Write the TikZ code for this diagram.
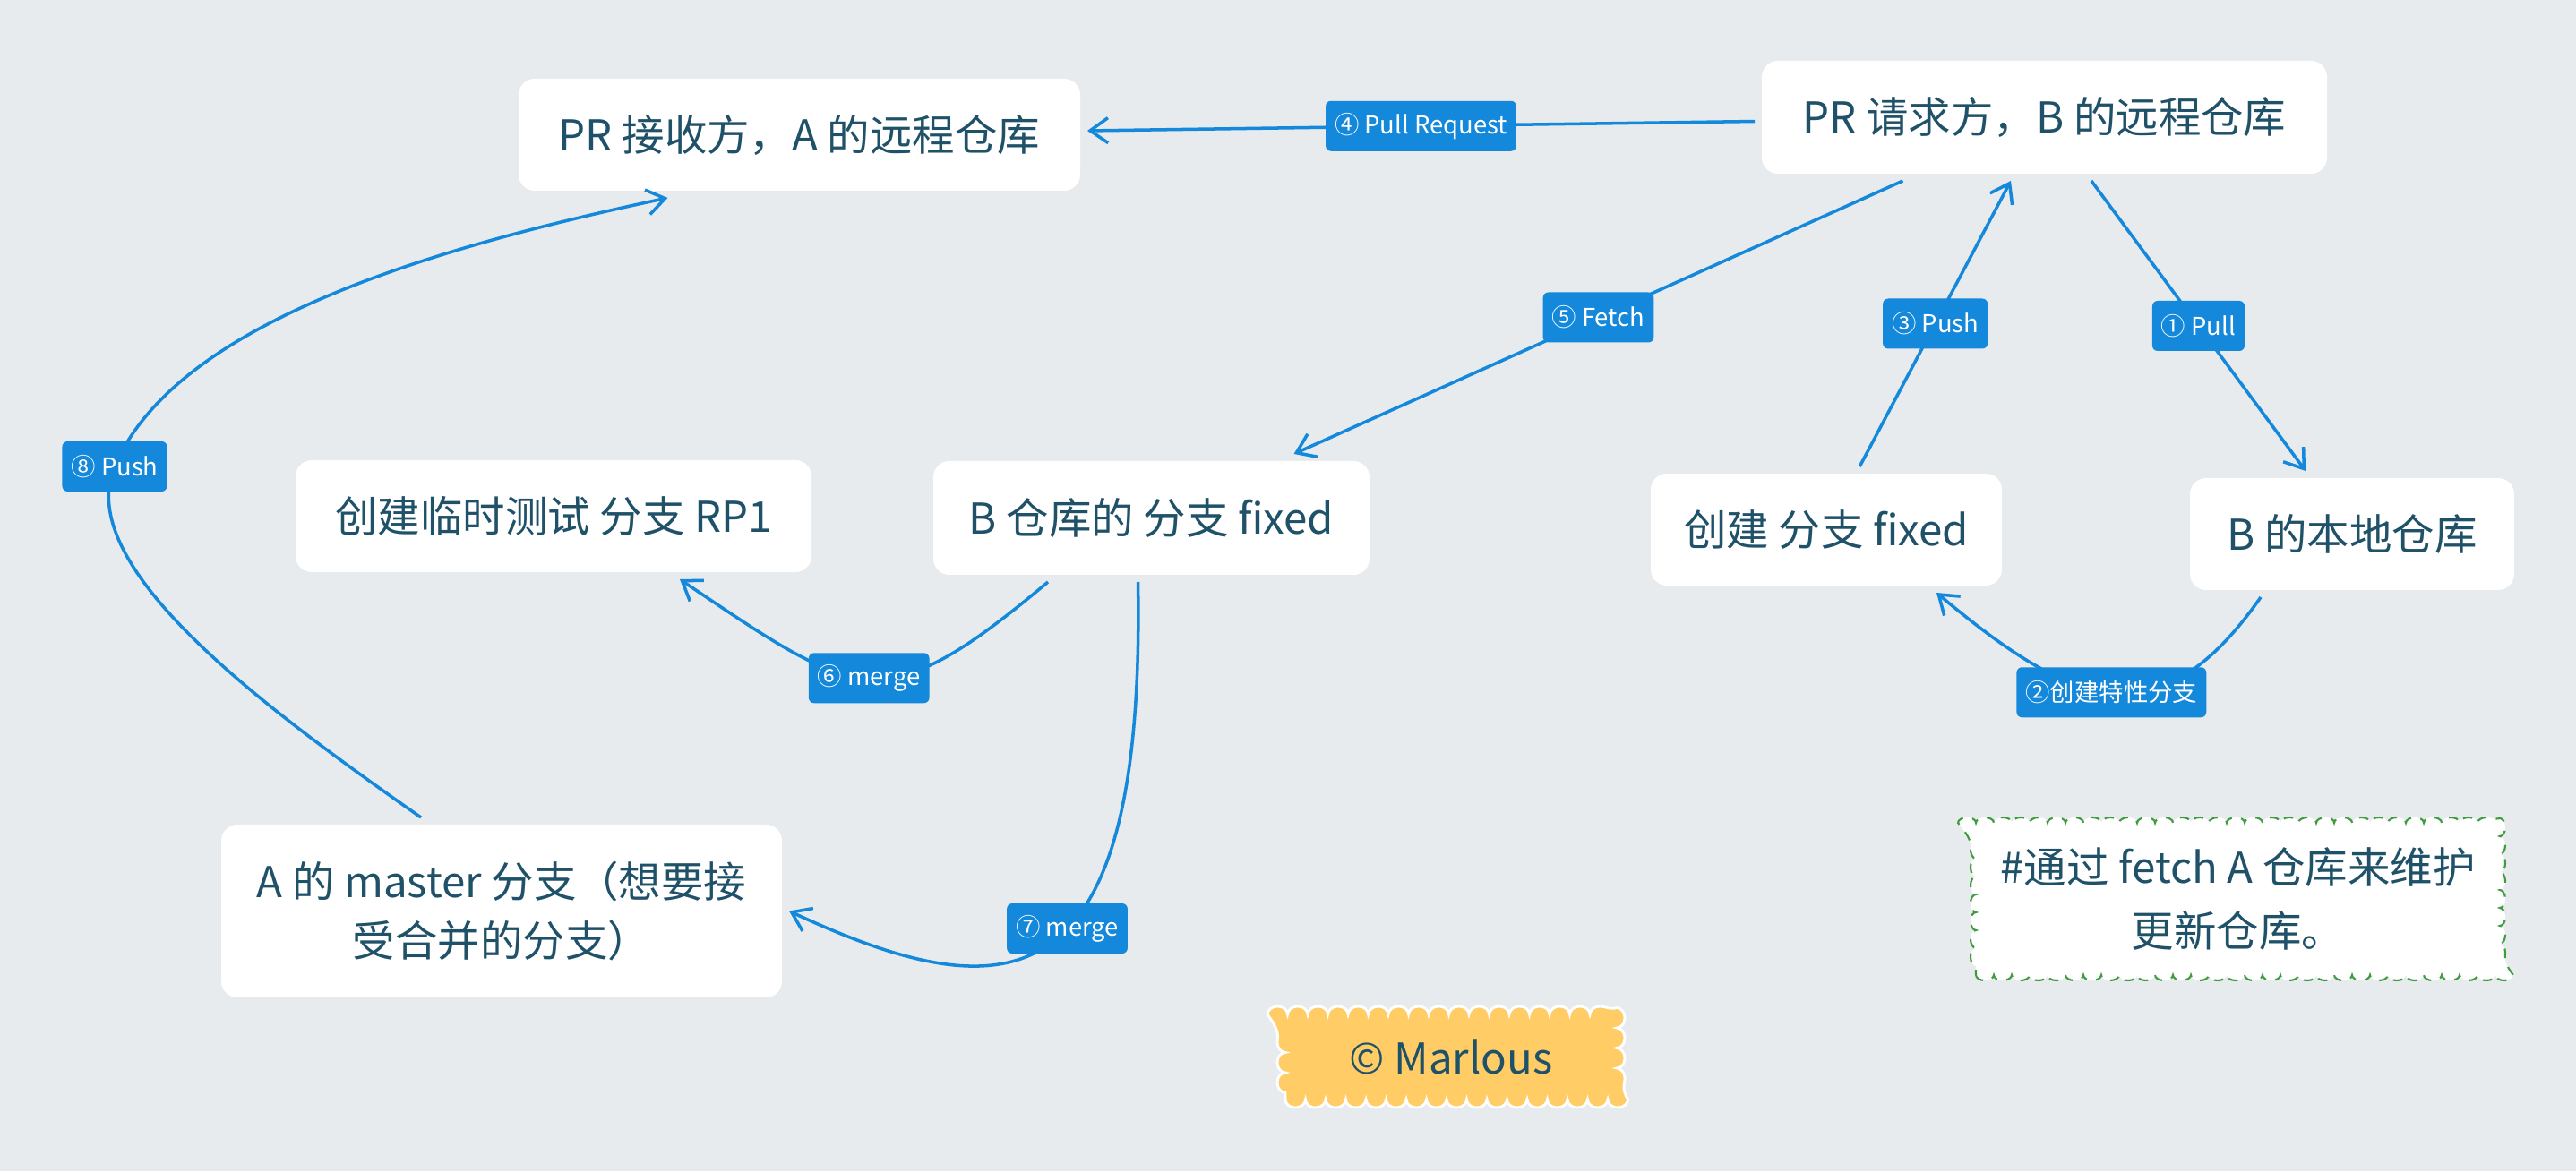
\documentclass[tikz,border=0pt]{standalone}
\usepackage{fontspec}
\setmainfont{Noto Sans CJK SC}
\usetikzlibrary{arrows.meta, positioning, decorations.pathmorphing}

\definecolor{bggray}{HTML}{E7EBEE}
\definecolor{inktext}{HTML}{1F5168}
\definecolor{flowblue}{HTML}{1488DB}
\definecolor{markyellow}{HTML}{FFCC66}
\definecolor{notegreen}{HTML}{3E9B3E}

\begin{document}
\begin{tikzpicture}[
    % boxes
    box/.style   = {rectangle, rounded corners=0.18cm, fill=white, text=inktext,
                    align=center, font=\fontsize{13.5}{19}\selectfont,
                    outer sep=0.08cm, minimum height=1.25cm},
    lbl/.style   = {rectangle, rounded corners=0.06cm, fill=flowblue, text=white,
                    font=\fontsize{7.8}{9}\selectfont, inner xsep=0.1cm,
                    minimum height=0.56cm},
    memo/.style  = {rectangle, fill=white, draw=notegreen, dashed, line width=0.6pt,
                    text=inktext, align=center, font=\fontsize{13.5}{20}\selectfont,
                    decorate, decoration={bumps, mirror, segment length=0.4cm, amplitude=0.06cm}},
    stamp/.style = {rectangle, fill=markyellow, draw=white, line width=0.8pt,
                    text=inktext, font=\fontsize{13.5}{19}\selectfont,
                    decorate, decoration={bumps, mirror, segment length=0.45cm, amplitude=0.09cm}},
    arr/.style   = {-{Straight Barb[length=0.2cm, width=0.28cm]}, line width=1pt, flowblue},
]

\fill[bggray] (0,0) rectangle (28.76,13.08);
\useasboundingbox (0,0) rectangle (28.76,13.08);

% -- repositories --
\node[box, minimum width=6.27cm] (arem) at (8.925,11.575) {PR 接收方，A 的远程仓库};
\node[box, minimum width=6.31cm, minimum height=1.26cm] (brem) at (22.825,11.77)
    {PR 请求方，B 的远程仓库};

% -- branches --
\node[box, minimum width=5.76cm] (rp1) at (6.18,7.315) {创建临时测试 分支 RP1};
\node[box, minimum width=4.87cm, minimum height=1.27cm] (bfix) at (12.855,7.295)
    {B 仓库的 分支 fixed};
\node[box, minimum width=3.92cm] (newbr) at (20.39,7.165) {创建 分支 fixed};
\node[box, minimum width=3.62cm] (bloc) at (26.26,7.115) {B 的本地仓库};
\node[box, minimum width=6.26cm, minimum height=1.93cm] (amas) at (5.60,2.905)
    {A 的 master 分支（想要接\\受合并的分支）};

% -- notes --
\node[memo, minimum width=5.85cm, minimum height=1.7cm] (note) at (24.985,3.04)
    {\#通过 fetch A 仓库来维护\\更新仓库。};
\node[stamp, minimum width=3.7cm, minimum height=0.95cm] (mark) at (16.20,1.275)
    {© Marlous};

% -- straight flows --
\draw[arr] (brem)  -- node[lbl] {④ Pull Request} (arem);
\draw[arr] (brem)  -- node[lbl] {⑤ Fetch} (bfix);
\draw[arr] (newbr) -- node[lbl] {③ Push} (brem);
\draw[arr] (brem)  -- node[lbl] {① Pull} (bloc);

% -- curved flows --
\draw[arr] ([xshift=-1.02cm]bloc.south) to[out=-125, in=-40, looseness=1.4]
    node[lbl] {②创建特性分支} ([xshift=1.23cm]newbr.south);
\draw[arr] ([xshift=-1.155cm]bfix.south) to[out=-140, in=-34, looseness=1.5]
    node[lbl] {⑥ merge} ([xshift=1.41cm]rp1.south);
\draw[arr] ([xshift=-0.15cm]bfix.south) .. controls +(-89:4.7) and +(-25:2.75) ..
    node[lbl, pos=0.45] {⑦ merge} (amas.east);
\draw[arr] ([xshift=-0.9cm]amas.north) .. controls +(145:2.2) and +(-113:1.2) ..
    (1.28,7.87) node[lbl] {⑧ Push}
    .. controls +(67:1.8) and +(192:2.5) .. ([xshift=-1.47cm]arem.south);

\end{tikzpicture}
\end{document}
